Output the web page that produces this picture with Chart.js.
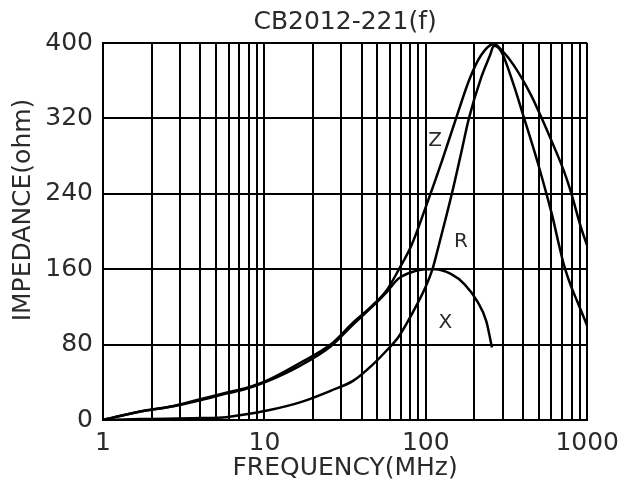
<!DOCTYPE html>
<html>
<head>
<meta charset="utf-8">
<script src="https://cdn.jsdelivr.net/npm/chart.js@4.4.1/dist/chart.umd.min.js"></script>
<style>
  body { margin: 0; background: #fff; }
  #wrap { width: 627px; height: 484px; position: relative; }
</style>
</head>
<body>
<div id="wrap"><canvas id="chartImpedance"></canvas></div>
<script>
const zFreq = [1, 1.7, 2.6, 4.0, 5.8, 7.7, 10.4, 16.8, 25.7, 35.8, 46.4, 57.4, 67.7, 81.8, 99, 126, 154, 187, 220, 264, 300, 352, 448, 517, 595, 718, 789, 920, 1000];
const zImp  = [0, 9, 14, 22, 29, 34, 42, 61, 80, 104, 121, 138, 159, 186, 224, 275, 320, 362, 387, 399, 391, 376, 345, 322, 298, 264, 243, 203, 185];

const rFreq = [1, 1.7, 4.0, 5.8, 7.7, 10.4, 16.8, 25.7, 35.8, 46.4, 57.4, 67.7, 83, 99, 110, 119, 145, 165, 185, 220, 250, 264, 293, 345, 407, 492, 555, 609, 660, 719, 790, 867, 1000];
const rImp  = [0, 1, 2, 3, 6, 10, 19, 31, 42, 58, 74, 88, 114, 140, 160, 182, 240, 282, 320, 363, 387, 397, 391, 359, 320, 274, 242, 216, 190, 164, 143, 126, 100];

const xFreq = [1, 1.7, 2.6, 4.0, 5.8, 7.7, 10.4, 16.8, 25.7, 35.8, 46.4, 57.4, 67.7, 85.8, 99, 114, 143, 174, 210, 237, 257];
const xImp  = [0, 9, 14, 21, 28, 33, 41, 58, 78, 102, 120, 136, 150, 158, 160, 160, 155, 144, 125, 105, 77];

// Etiquetas de las curvas (frecuencia, impedancia)
const curveNames = ['Z', 'R', 'X'];
const labelFreq = [114, 165, 132];
const labelImp = [296, 189, 103];

const yTicks = [0, 80, 160, 240, 320, 400];
const decadeLabels = [1, 10, 100, 1000];

const FONT = 'DejaVu Sans';
const TEXT_COLOR = '#2a2a2a';

function toPoints(freqs, values) {
    return freqs.map((f, i) => ({ x: f, y: values[i] }));
}

function curve(freqs, values) {
    return {
        data: toPoints(freqs, values),
        borderColor: '#000',
        borderWidth: 2.5,
        pointRadius: 0,
        fill: false,
        cubicInterpolationMode: 'monotone'
    };
}

// Título, texto de las curvas y título del eje Y
const textPlugin = {
    id: 'textPlugin',
    afterDatasetsDraw(chart) {
        const ctx = chart.ctx;
        const xs = chart.scales.x;
        const ys = chart.scales.y;
        ctx.save();
        ctx.fillStyle = TEXT_COLOR;
        ctx.font = '20px "' + FONT + '"';
        ctx.textAlign = 'center';
        ctx.textBaseline = 'middle';
        curveNames.forEach((name, i) => {
            ctx.fillText(name, xs.getPixelForValue(labelFreq[i]), ys.getPixelForValue(labelImp[i]));
        });
        ctx.restore();
    },
    afterDraw(chart) {
        const ctx = chart.ctx;
        const area = chart.chartArea;
        ctx.save();
        ctx.fillStyle = TEXT_COLOR;
        ctx.font = '25px "' + FONT + '"';
        ctx.textAlign = 'center';
        ctx.textBaseline = 'middle';
        ctx.fillText('CB2012-221(f)', (area.left + area.right) / 2, 22);
        ctx.translate(23, 210);
        ctx.rotate(-Math.PI / 2);
        ctx.fillText('IMPEDANCE(ohm)', 0, 0);
        ctx.restore();
    }
};

const chartImpedance = new Chart(document.getElementById('chartImpedance').getContext('2d'), {
    type: 'line',
    data: {
        datasets: [curve(zFreq, zImp), curve(rFreq, rImp), curve(xFreq, xImp)]
    },
    options: {
        responsive: true,
        maintainAspectRatio: false,
        animation: false,
        layout: { padding: { left: 0, right: 37, top: 43, bottom: 0 } },
        plugins: {
            legend: { display: false },
            tooltip: { enabled: false },
            title: { display: false }
        },
        scales: {
            x: {
                type: 'logarithmic',
                min: 1,
                max: 1000,
                afterBuildTicks(scale) {
                    const ticks = [];
                    for (let d = 1; d < 1000; d *= 10) {
                        for (let m = 1; m < 10; m++) ticks.push({ value: m * d });
                    }
                    ticks.push({ value: 1000 });
                    scale.ticks = ticks;
                },
                afterFit(scale) { scale.height = 64; },
                grid: { color: '#000', lineWidth: 2, drawTicks: false },
                border: { color: '#000', width: 2 },
                ticks: {
                    autoSkip: false,
                    maxRotation: 0,
                    padding: 8,
                    color: TEXT_COLOR,
                    font: { family: FONT, size: 25 },
                    callback: value => decadeLabels.includes(value) ? String(value) : ''
                },
                title: {
                    display: true,
                    text: 'FREQUENCY(MHz)',
                    color: TEXT_COLOR,
                    font: { family: FONT, size: 25 },
                    padding: { top: 0, bottom: 1 }
                }
            },
            y: {
                min: 0,
                max: 400,
                afterBuildTicks(scale) {
                    scale.ticks = yTicks.map(v => ({ value: v }));
                },
                afterFit(scale) { scale.width = 103; },
                grid: { color: '#000', lineWidth: 2, drawTicks: false },
                border: { color: '#000', width: 2 },
                ticks: {
                    padding: 10,
                    color: TEXT_COLOR,
                    font: { family: FONT, size: 25 }
                }
            }
        }
    },
    plugins: [textPlugin]
});
</script>
</body>
</html>
